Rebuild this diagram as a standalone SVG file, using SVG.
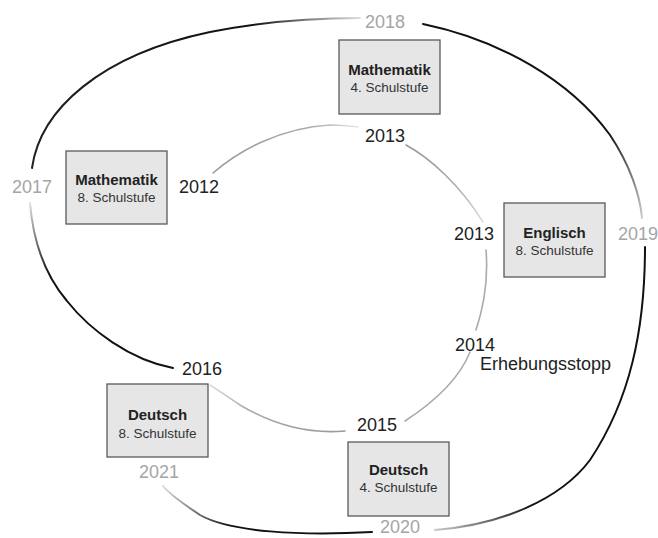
<svg xmlns="http://www.w3.org/2000/svg" width="658" height="538" viewBox="0 0 658 538">
<style>
.box{fill:#e6e6e7;stroke:#5a5a5a;stroke-width:1.3}
.t{font-family:"Liberation Sans",Arial,sans-serif;font-weight:bold;font-size:15px;fill:#222;text-anchor:middle}
.s{font-family:"Liberation Sans",Arial,sans-serif;font-size:13.5px;fill:#333;text-anchor:middle}
.y{font-family:"Liberation Sans",Arial,sans-serif;font-size:18px;fill:#222}
.g{fill:#a5a5a5}
.o{fill:none;stroke-width:2;stroke-linecap:round}
.i{fill:none;stroke-width:1.6;stroke-linecap:round}
</style>
<defs>
<linearGradient id="gS1" gradientUnits="userSpaceOnUse" x1="32" y1="168" x2="360" y2="18"><stop offset="0" stop-color="#222"/><stop offset="0.72" stop-color="#111"/><stop offset="1" stop-color="#ddd"/></linearGradient>
<linearGradient id="gS2" gradientUnits="userSpaceOnUse" x1="423" y1="24" x2="642" y2="218"><stop offset="0" stop-color="#111"/><stop offset="0.72" stop-color="#111"/><stop offset="1" stop-color="#ccc"/></linearGradient>
<linearGradient id="gS3" gradientUnits="userSpaceOnUse" x1="645" y1="247" x2="435" y2="532"><stop offset="0" stop-color="#111"/><stop offset="0.78" stop-color="#111"/><stop offset="1" stop-color="#ccc"/></linearGradient>
<linearGradient id="gS4" gradientUnits="userSpaceOnUse" x1="372" y1="534" x2="163" y2="486"><stop offset="0" stop-color="#111"/><stop offset="0.65" stop-color="#111"/><stop offset="1" stop-color="#ddd"/></linearGradient>
<linearGradient id="gS5" gradientUnits="userSpaceOnUse" x1="30" y1="203" x2="173" y2="368"><stop offset="0" stop-color="#ddd"/><stop offset="0.3" stop-color="#111"/><stop offset="1" stop-color="#111"/></linearGradient>
<linearGradient id="gI1" gradientUnits="userSpaceOnUse" x1="213" y1="173" x2="358" y2="127"><stop offset="0" stop-color="#999"/><stop offset="0.7" stop-color="#aaa"/><stop offset="1" stop-color="#e5e5e5"/></linearGradient>
<linearGradient id="gI2" gradientUnits="userSpaceOnUse" x1="406" y1="145" x2="483" y2="222"><stop offset="0" stop-color="#999"/><stop offset="0.6" stop-color="#aaa"/><stop offset="1" stop-color="#ddd"/></linearGradient>
<linearGradient id="gI4" gradientUnits="userSpaceOnUse" x1="345" y1="431" x2="210" y2="385"><stop offset="0" stop-color="#999"/><stop offset="0.7" stop-color="#aaa"/><stop offset="1" stop-color="#ddd"/></linearGradient>
</defs>
<g id="connectors">
<path class="o" stroke="url(#gS1)" d="M32 168 C40 110 100 55 210 32 C260 22 310 18 360 18"/>
<path class="o" stroke="url(#gS2)" d="M423 24 C500 40 570 80 610 135 C630 165 640 195 642 218"/>
<path class="o" stroke="url(#gS3)" d="M645 247 C645 330 630 400 590 460 C560 500 500 525 435 530"/>
<path class="o" stroke="url(#gS4)" d="M372 532 C300 536 230 532 200 515 C185 505 170 495 163 486"/>
<path class="o" stroke="url(#gS5)" d="M30 203 C33 240 45 275 67 301 C90 330 130 360 173 368"/>
<path class="i" stroke="url(#gI1)" d="M213 173 C240 150 280 128 330 125 C340 125 350 126 358 127"/>
<path class="i" stroke="url(#gI2)" d="M406 145 C430 158 460 185 483 222"/>
<path class="i" stroke="#aaa" d="M486 250 C488 275 486 300 476 330"/>
<path class="i" stroke="#aaa" d="M470 352 C462 372 445 395 405 421"/>
<path class="i" stroke="url(#gI4)" d="M345 431 C300 435 265 420 240 405 C225 395 215 388 210 385"/>
</g>
<g id="years">
<text class="y g" x="12" y="193">2017</text>
<text class="y" x="179" y="193">2012</text>
<text class="y g" x="365" y="28">2018</text>
<text class="y" x="365" y="142">2013</text>
<text class="y" x="454" y="240">2013</text>
<text class="y g" x="618" y="240">2019</text>
<text class="y" x="455" y="351">2014</text>
<text class="y" x="480" y="370">Erhebungsstopp</text>
<text class="y" x="182" y="375">2016</text>
<text class="y" x="357" y="431">2015</text>
<text class="y g" x="139" y="478">2021</text>
<text class="y g" x="380" y="533">2020</text>
</g>
<g id="node-mathe8">
<rect class="box" x="66" y="151" width="101" height="73"/>
<text class="t" x="116.5" y="185">Mathematik</text>
<text class="s" x="116.5" y="202">8. Schulstufe</text>
</g>
<g id="node-mathe4">
<rect class="box" x="339" y="40" width="101" height="74"/>
<text class="t" x="389.5" y="75">Mathematik</text>
<text class="s" x="389.5" y="92">4. Schulstufe</text>
</g>
<g id="node-englisch8">
<rect class="box" x="504" y="203" width="101" height="74"/>
<text class="t" x="554.5" y="238">Englisch</text>
<text class="s" x="554.5" y="255">8. Schulstufe</text>
</g>
<g id="node-deutsch8">
<rect class="box" x="107" y="384" width="101" height="73"/>
<text class="t" x="157.5" y="420">Deutsch</text>
<text class="s" x="157.5" y="438">8. Schulstufe</text>
</g>
<g id="node-deutsch4">
<rect class="box" x="348" y="442" width="101" height="74"/>
<text class="t" x="398.5" y="475">Deutsch</text>
<text class="s" x="398.5" y="492">4. Schulstufe</text>
</g>
</svg>
